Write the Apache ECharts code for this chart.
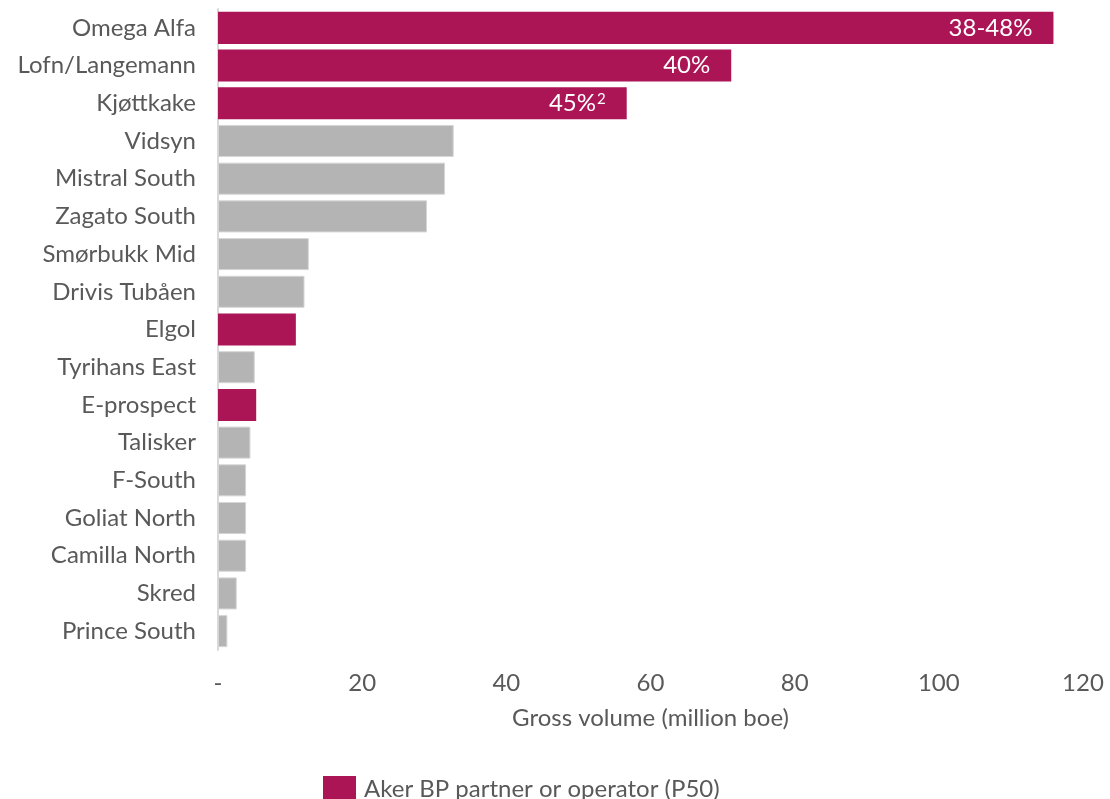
<!DOCTYPE html>
<html>
<head>
<meta charset="utf-8">
<script src="https://cdn.jsdelivr.net/npm/echarts@6/dist/echarts.min.js"></script>
<style>
html,body{margin:0;padding:0;background:#fff;}
#chart{width:1110px;height:799px;}
</style>
</head>
<body>
<div id="chart"></div>
<script>
var categories = ['Omega Alfa','Lofn/Langemann','Kjøttkake','Vidsyn','Mistral South','Zagato South','Smørbukk Mid','Drivis Tubåen','Elgol','Tyrihans East','E-prospect','Talisker','F-South','Goliat North','Camilla North','Skred','Prince South'];
var volumes = [115.9, 71.2, 56.7, 32.7, 31.5, 29.0, 12.6, 12.0, 10.8, 5.1, 5.3, 4.5, 3.9, 3.9, 3.9, 2.6, 1.3];
var akerBP = [true, true, true, false, false, false, false, false, true, false, true, false, false, false, false, false, false];
var barLabels = ['38-48%', '40%', '45%{sup|2}', '', '', '', '', '', '', '', '', '', '', '', '', '', ''];
var xTicks = [0, 20, 40, 60, 80, 100, 120];

var FONT = 'Lato, "Open Sans", sans-serif';
var TXT = '#595959';
var MAGENTA = '#ab1556';
var GRAY = '#b4b4b4';

var akerData = volumes.map(function(v, i){ return akerBP[i] ? v : '-'; });
var otherData = volumes.map(function(v, i){ return akerBP[i] ? '-' : v; });

var chart = echarts.init(document.getElementById('chart'));
chart.setOption({
  animation: false,
  backgroundColor: '#fff',
  grid: {left: 218, right: 27, top: 9, bottom: 149, containLabel: false},
  legend: {
    data: ['Aker BP partner or operator (P50)'],
    left: 318, top: 771,
    itemWidth: 33, itemHeight: 27, itemGap: 8,
    icon: 'rect',
    textStyle: {fontFamily: FONT, fontSize: 24, color: TXT, padding: [8, 0, 0, 3]}
  },
  xAxis: {
    type: 'value',
    min: xTicks[0], max: xTicks[xTicks.length - 1], interval: 20,
    name: 'Gross volume (million boe)',
    nameLocation: 'middle', nameGap: 56,
    nameTextStyle: {fontFamily: FONT, fontSize: 24, color: TXT},
    axisLine: {show: false},
    axisTick: {show: false},
    splitLine: {show: false},
    axisLabel: {
      fontFamily: FONT, fontSize: 24, color: TXT, margin: 21,
      formatter: function(v){ return v === 0 ? '-' : String(v); }
    }
  },
  yAxis: {
    type: 'category',
    data: categories,
    inverse: true,
    axisLine: {show: true, lineStyle: {color: '#d9d9d9', width: 2}},
    axisTick: {show: false},
    axisLabel: {fontFamily: FONT, fontSize: 24, color: TXT, margin: 22}
  },
  series: [
    {
      name: 'Aker BP partner or operator (P50)',
      type: 'bar', stack: 'all',
      barCategoryGap: '15%',
      data: akerData,
      itemStyle: {color: MAGENTA},
      label: {
        show: true, position: 'insideRight', distance: 21,
        fontFamily: FONT, fontSize: 24, color: '#fff',
        formatter: function(p){ return barLabels[p.dataIndex]; },
        rich: {
          sup: {fontFamily: FONT, fontSize: 15, color: '#fff', verticalAlign: 'top', padding: [0, 0, 8, 1]}
        }
      }
    },
    {
      name: 'Other',
      type: 'bar', stack: 'all',
      barCategoryGap: '15%',
      data: otherData,
      itemStyle: {color: GRAY, borderColor: '#d6d6d6', borderWidth: 1}
    }
  ]
});
</script>
</body>
</html>
